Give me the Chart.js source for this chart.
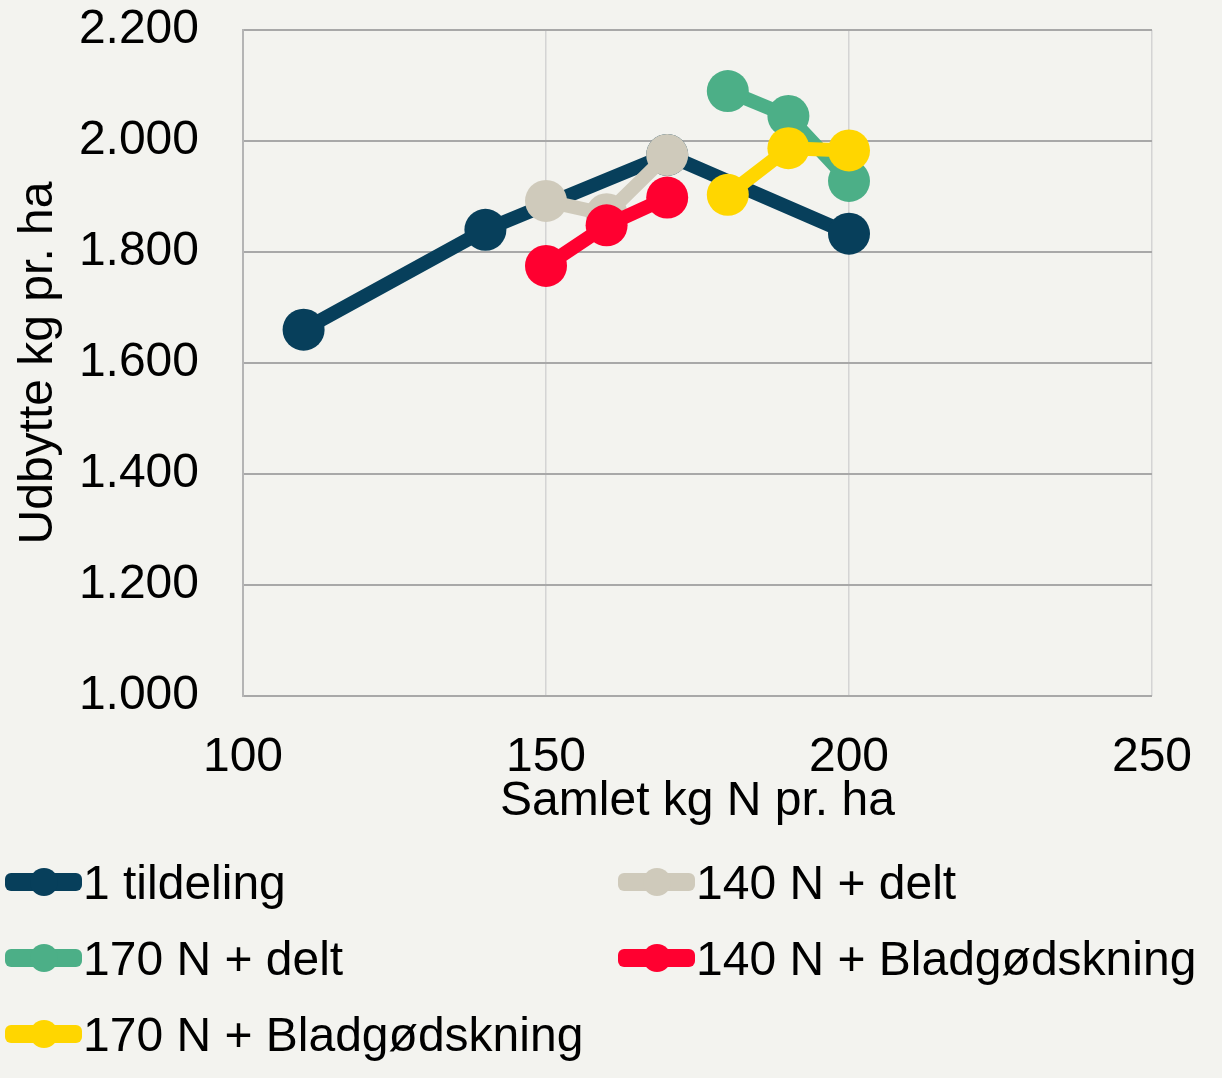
<!DOCTYPE html>
<html>
<head>
<meta charset="utf-8">
<script src="https://cdn.jsdelivr.net/npm/chart.js@4/dist/chart.umd.min.js"></script>
<style>
  body { margin: 0; background: #f3f3ef; font-family: "Liberation Sans", Arial, sans-serif; }
  #wrap { position: relative; width: 1222px; height: 1078px; }
  #legend { position: absolute; left: 0; top: 0; width: 1222px; height: 1078px; pointer-events: none; }
  .item { position: absolute; height: 60px; display: flex; align-items: center; font-size: 48px; color: #000; white-space: nowrap; }
  .mark { position: relative; width: 77px; height: 60px; margin-right: 1px; }
  .mark .ln { position: absolute; left: 0; right: 0; top: 21px; height: 18px; border-radius: 6px; }
  .mark .dt { position: absolute; left: 25px; top: 16px; width: 28px; height: 28px; border-radius: 50%; }
</style>
</head>
<body>
<div id="wrap">
  <canvas id="myChart" width="1222" height="840"></canvas>
  <div id="legend"></div>
</div>
<script>
// x values (kg N pr. ha) and yields (kg pr. ha) per series
var names = ['1 tildeling', '140 N + delt', '170 N + delt', '140 N + Bladgødskning', '170 N + Bladgødskning'];
var colors = ['#073f5b', '#cfcabb', '#4caf87', '#ff0030', '#ffd600'];

var x1 = [110, 140, 170, 200];
var y1 = [1660, 1840, 1975, 1833];

var x2 = [150, 160, 170];
var y2 = [1892, 1868, 1975];

var x3 = [180, 190, 200];
var y3 = [2090, 2045, 1928];

var x4 = [150, 160, 170];
var y4 = [1775, 1848, 1898];

var x5 = [180, 190, 200];
var y5 = [1903, 1987, 1983];

var yTicks = [1000, 1200, 1400, 1600, 1800, 2000, 2200];
var xTicks = [100, 150, 200, 250];

// drawing order: navy at the bottom, yellow on top
var drawOrder = [5, 4, 2, 3, 1];

function pts(xs, ys) {
    return xs.map(function (x, i) { return { x: x, y: ys[i] }; });
}

function fmt(v) {
    return String(v).replace(/\B(?=(\d{3})+(?!\d))/g, '.');
}

var series = [[x1, y1], [x2, y2], [x3, y3], [x4, y4], [x5, y5]];

var ctx = document.getElementById('myChart').getContext('2d');
var chart = new Chart(ctx, {
    type: 'line',
    data: {
        datasets: series.map(function (s, i) {
            return {
                label: names[i],
                data: pts(s[0], s[1]),
                borderColor: colors[i],
                backgroundColor: colors[i],
                borderWidth: 14,
                pointRadius: 21,
                pointHoverRadius: 21,
                pointBorderWidth: 0,
                order: drawOrder[i],
                fill: false
            };
        })
    },
    options: {
        responsive: false,
        animation: false,
        layout: { padding: { top: 0, right: 70, bottom: 9, left: 0 } },
        plugins: {
            legend: { display: false },
            tooltip: { enabled: false }
        },
        scales: {
            x: {
                type: 'linear',
                min: 100,
                max: 250,
                afterBuildTicks: function (s) { s.ticks = xTicks.map(function (v) { return { value: v }; }); },
                afterFit: function (s) { s.height = 135; s.paddingRight = 0; },
                ticks: { color: '#000', font: { size: 48, family: 'Liberation Sans' }, padding: 33 },
                grid: { color: '#d4d4d4', lineWidth: 1.5, drawTicks: false },
                border: { display: false },
                title: {
                    display: true,
                    text: 'Samlet kg N pr. ha',
                    color: '#000',
                    font: { size: 48, family: 'Liberation Sans' },
                    padding: { top: 0, bottom: 0 }
                }
            },
            y: {
                min: 1000,
                max: 2200,
                afterBuildTicks: function (s) { s.ticks = yTicks.map(function (v) { return { value: v }; }); },
                afterFit: function (s) { s.width = 243; s.paddingTop = 30; s.paddingBottom = 0; },
                ticks: {
                    color: '#000',
                    font: { size: 48, family: 'Liberation Sans' },
                    padding: 44,
                    callback: function (v) { return fmt(v); }
                },
                grid: { color: '#a8a8a8', lineWidth: 2, drawTicks: false },
                border: { display: true, color: '#b4b4b4', width: 2 },
                title: {
                    display: true,
                    text: 'Udbytte kg pr. ha',
                    color: '#000',
                    font: { size: 48, family: 'Liberation Sans' },
                    padding: { top: 10, bottom: 0 }
                }
            }
        }
    }
});

// legend in two columns, built from the datasets
var legendPos = [[5, 852], [618, 852], [5, 928], [618, 928], [5, 1004]];
var legend = document.getElementById('legend');
chart.data.datasets.forEach(function (ds, i) {
    var it = document.createElement('div');
    it.className = 'item';
    it.style.left = legendPos[i][0] + 'px';
    it.style.top = legendPos[i][1] + 'px';
    it.innerHTML = '<div class="mark"><div class="ln" style="background:' + ds.borderColor +
        '"></div><div class="dt" style="background:' + ds.borderColor + '"></div></div><span>' +
        ds.label + '</span>';
    legend.appendChild(it);
});
</script>
</body>
</html>
